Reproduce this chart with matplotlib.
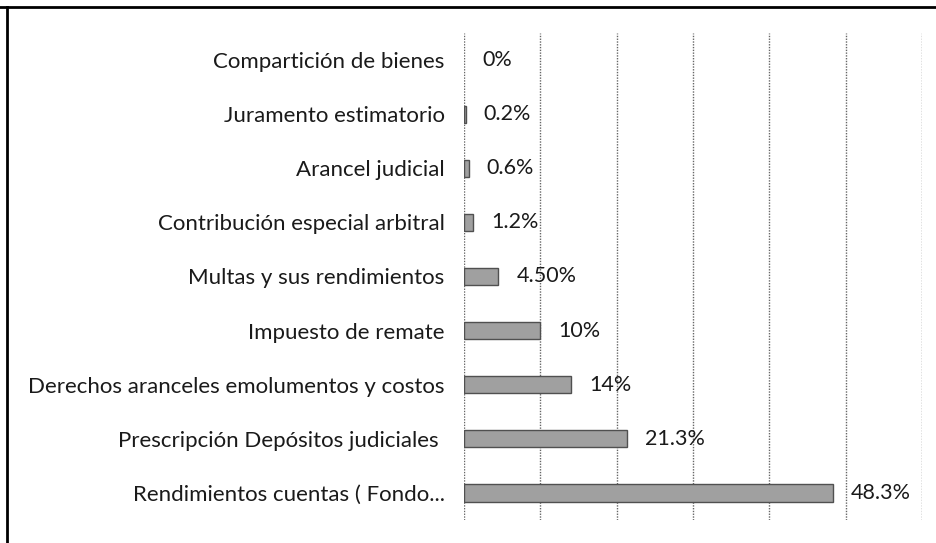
import matplotlib.pyplot as plt
from matplotlib.lines import Line2D

categories = [
    "Compartición de bienes",
    "Juramento estimatorio",
    "Arancel judicial",
    "Contribución especial arbitral",
    "Multas y sus rendimientos",
    "Impuesto de remate",
    "Derechos aranceles emolumentos y costos",
    "Prescripción Depósitos judiciales ",
    "Rendimientos cuentas ( Fondo...",
]
values = [0, 0.2, 0.6, 1.2, 4.5, 10, 14, 21.3, 48.3]
value_labels = ["0%", "0.2%", "0.6%", "1.2%", "4.50%", "10%", "14%", "21.3%", "48.3%"]

plt.rcParams['font.family'] = ['Lato', 'DejaVu Sans']

fig = plt.figure(figsize=(9.36, 5.43), dpi=100)
# plot area in pixels: x 464..922, y 33..520
ax = fig.add_axes([464 / 936, (543 - 520) / 543, (922 - 464) / 936, (520 - 33) / 543])

ypos = list(range(len(categories)))
edges = ['#505050' if v > 0 else 'none' for v in values]
ax.barh(ypos, values, height=0.32, color='#a0a0a0', edgecolor=edges,
        linewidth=1.0, zorder=3)

for y, v, lab in zip(ypos, values, value_labels):
    ax.annotate(lab, (v, y), xytext=(13, 0), textcoords='offset points',
                va='center', ha='left', fontsize=15.5, color='#1a1a1a')

ax.set_xlim(0, 60)
ax.set_ylim(len(categories) - 0.5, -0.5)
ax.set_xticks(range(0, 61, 10))
ax.set_xticklabels([])
ax.set_yticks(ypos)
ax.set_yticklabels(categories, fontsize=16, color='#1a1a1a')
ax.tick_params(axis='both', length=0, pad=14)
ax.grid(axis='x', linestyle=(0, (1, 1)), color='#666666', linewidth=1.0, zorder=0)
for s in ax.spines.values():
    s.set_visible(False)

# outer frame (top and left edge of scanned box)
fig.add_artist(Line2D([0, 1], [1 - 7 / 543, 1 - 7 / 543], transform=fig.transFigure,
                      color='black', linewidth=2.0))
fig.add_artist(Line2D([7 / 936, 7 / 936], [0, 1 - 7 / 543], transform=fig.transFigure,
                      color='black', linewidth=2.0))

plt.savefig("out.png", dpi=100)
